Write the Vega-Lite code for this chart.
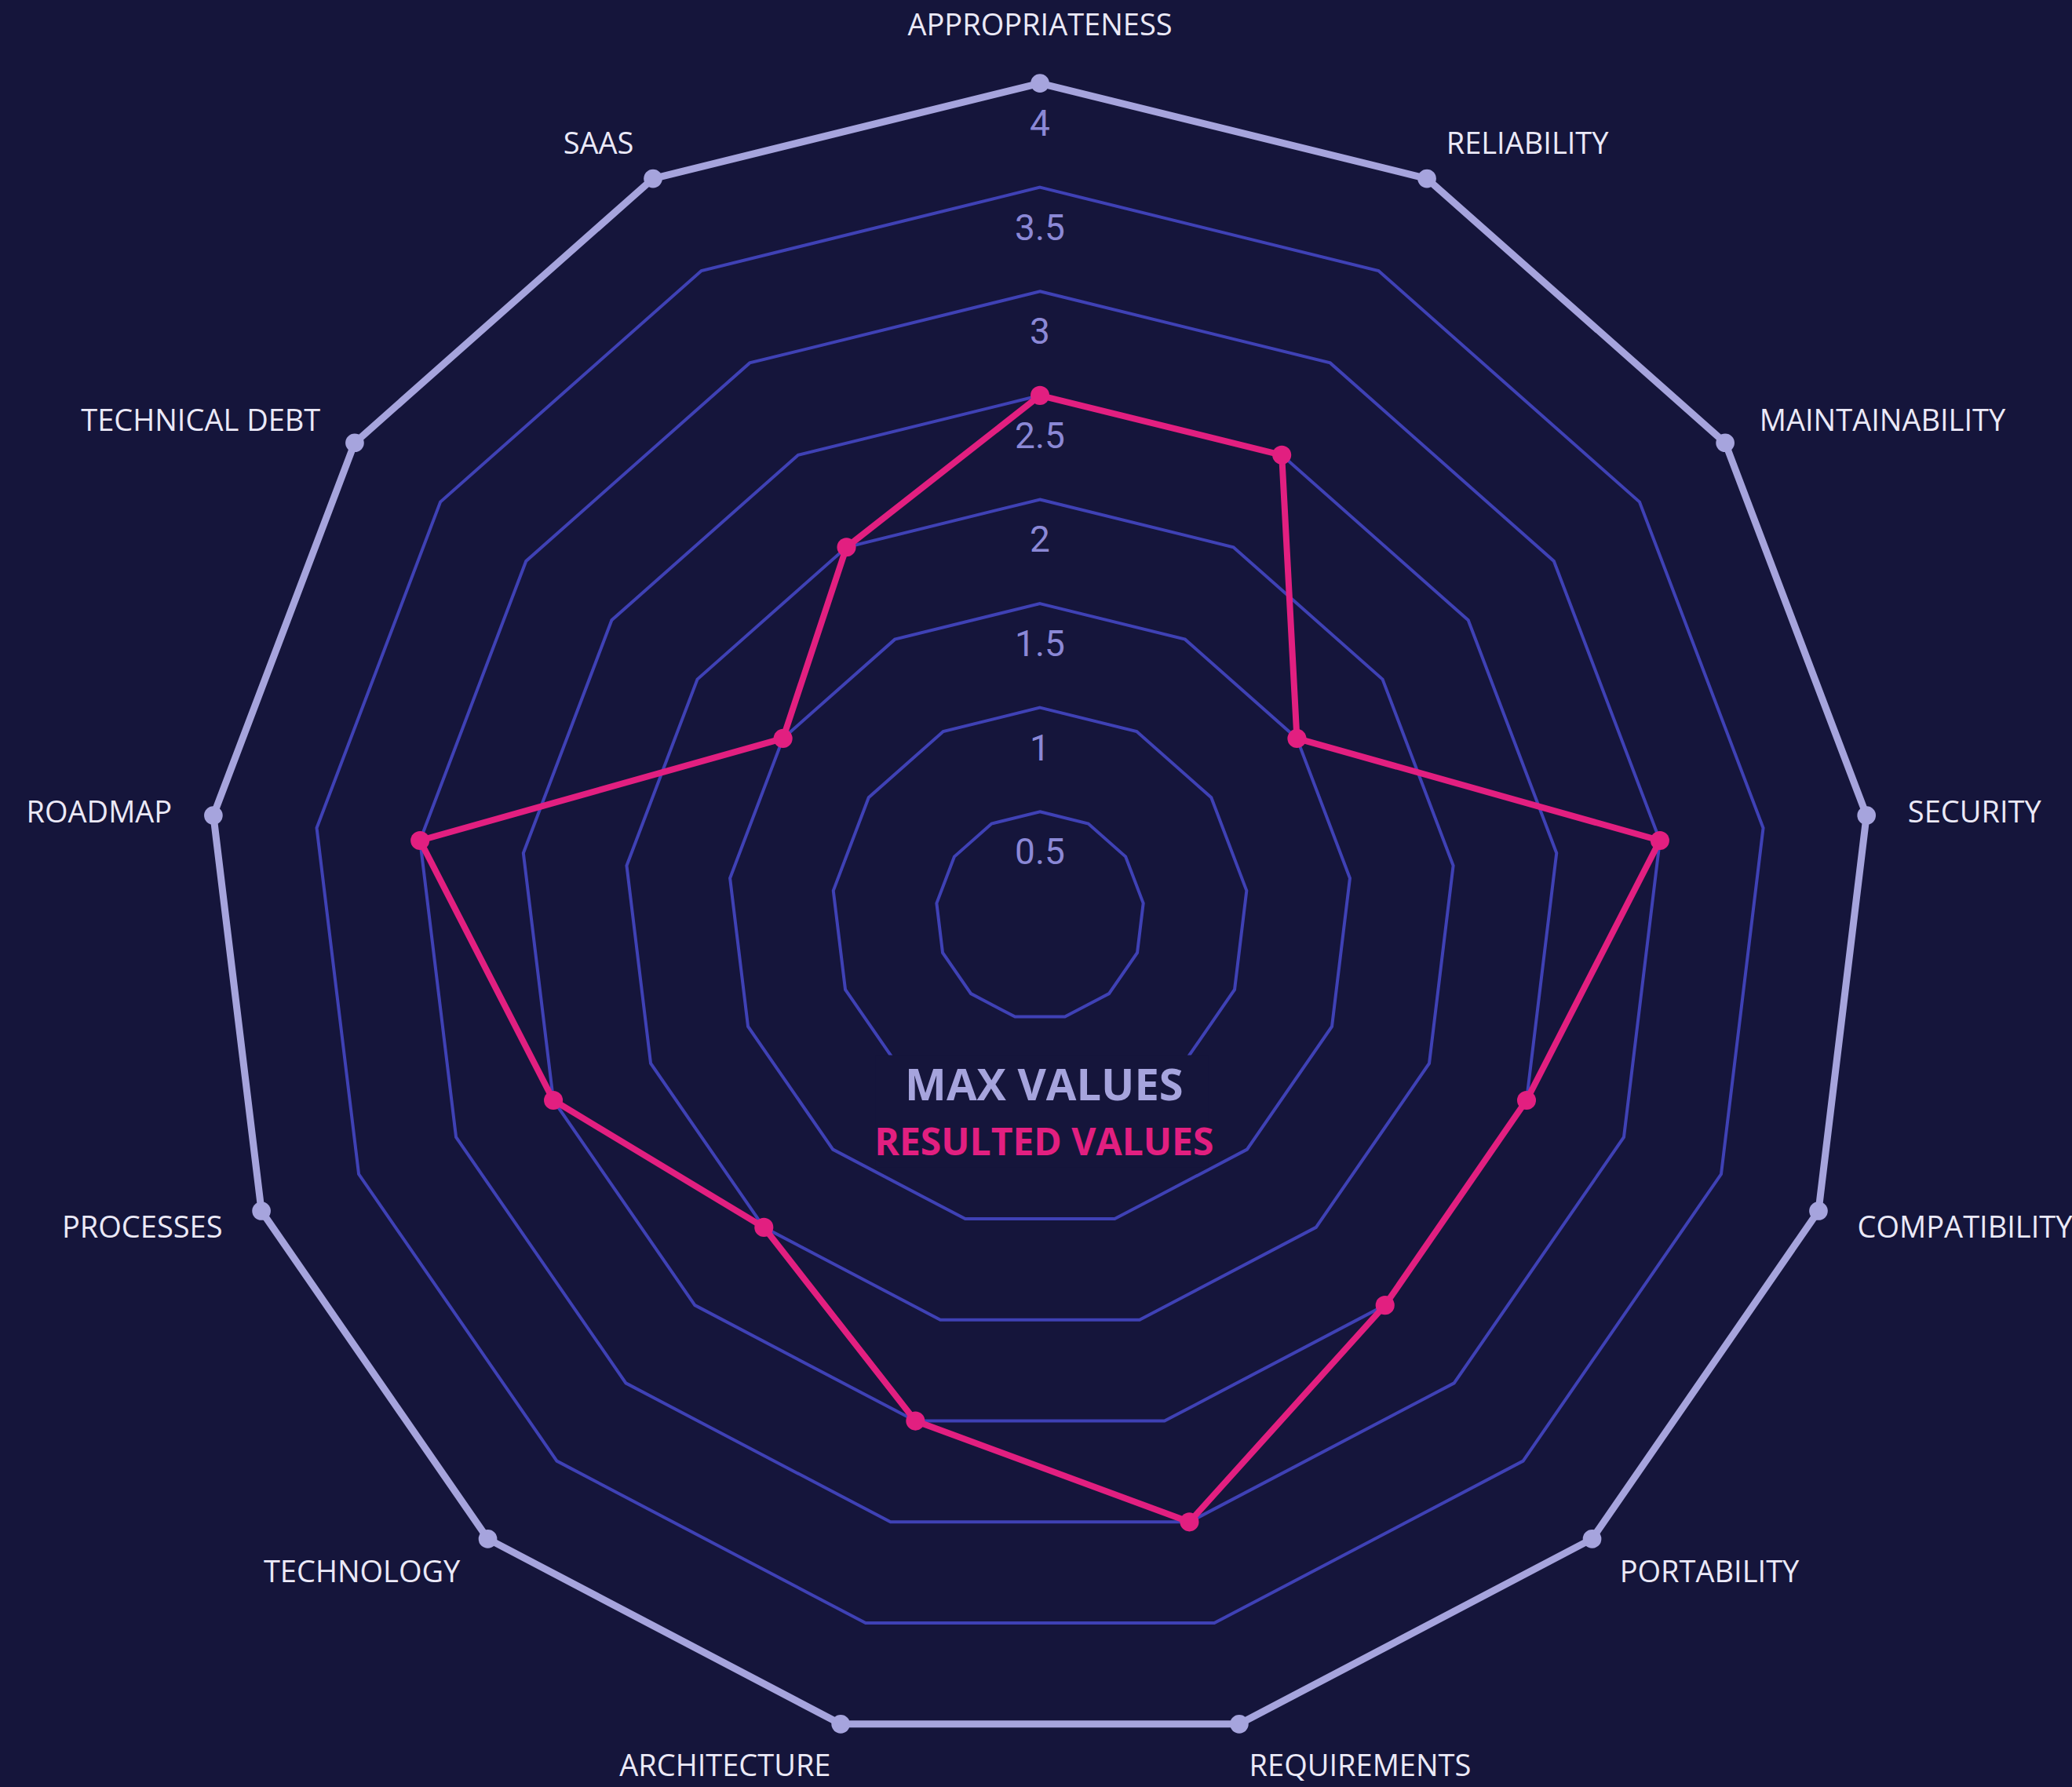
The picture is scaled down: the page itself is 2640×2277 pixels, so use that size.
{
  "$schema": "https://vega.github.io/schema/vega-lite/v6.json",
  "width": 2640,
  "height": 2277,
  "autosize": {"type": "none"},
  "padding": 0,
  "background": "#15153b",
  "config": {"view": {"stroke": null}},
  "datasets": {
    "axes": [
      {"axis": "APPROPRIATENESS", "i": 0, "value": 2.5, "max": 4},
      {"axis": "RELIABILITY", "i": 1, "value": 2.5, "max": 4},
      {"axis": "MAINTAINABILITY", "i": 2, "value": 1.5, "max": 4},
      {"axis": "SECURITY", "i": 3, "value": 3, "max": 4},
      {"axis": "COMPATIBILITY", "i": 4, "value": 2.5, "max": 4},
      {"axis": "PORTABILITY", "i": 5, "value": 2.5, "max": 4},
      {"axis": "REQUIREMENTS", "i": 6, "value": 3, "max": 4},
      {"axis": "ARCHITECTURE", "i": 7, "value": 2.5, "max": 4},
      {"axis": "TECHNOLOGY", "i": 8, "value": 2, "max": 4},
      {"axis": "PROCESSES", "i": 9, "value": 2.5, "max": 4},
      {"axis": "ROADMAP", "i": 10, "value": 3, "max": 4},
      {"axis": "TECHNICAL DEBT", "i": 11, "value": 1.5, "max": 4},
      {"axis": "SAAS", "i": 12, "value": 2, "max": 4}
    ],
    "levels": [
      {"level": 0.5, "label": "0.5"},
      {"level": 1, "label": "1"},
      {"level": 1.5, "label": "1.5"},
      {"level": 2, "label": "2"},
      {"level": 2.5, "label": "2.5"},
      {"level": 3, "label": "3"},
      {"level": 3.5, "label": "3.5"},
      {"level": 4, "label": "4"}
    ]
  },
  "layer": [
    {
      "data": {"name": "axes"},
      "transform": [
        {"calculate": "[0.5, 1, 1.5, 2, 2.5, 3, 3.5]", "as": "level"},
        {"flatten": ["level"]},
        {"calculate": "datum.level * sin(datum.i * 2 * PI / 13)", "as": "x"},
        {"calculate": "datum.level * cos(datum.i * 2 * PI / 13)", "as": "y"}
      ],
      "mark": {"type": "line", "interpolate": "linear-closed", "stroke": "#3f41b5", "strokeWidth": 4},
      "encoding": {
        "x": {"field": "x", "type": "quantitative", "scale": {"domain": [-4.996, 4.958], "nice": false, "zero": false}, "axis": null},
        "y": {"field": "y", "type": "quantitative", "scale": {"domain": [-4.186, 4.4], "nice": false, "zero": false}, "axis": null},
        "detail": {"field": "level", "type": "nominal"},
        "order": {"field": "i", "type": "quantitative"}
      }
    },
    {
      "data": {"values": [{}]},
      "mark": {"type": "rect", "fill": "#15153b"},
      "encoding": {
        "x": {"datum": -0.79, "type": "quantitative"},
        "x2": {"datum": 0.81},
        "y": {"datum": -0.67, "type": "quantitative"},
        "y2": {"datum": -1.21}
      }
    },
    {
      "data": {"name": "levels"},
      "mark": {"type": "text", "font": "Roboto", "fontSize": 46, "fontWeight": 400, "fill": "#8b88d6", "align": "center", "baseline": "middle", "dy": 53},
      "encoding": {
        "x": {"datum": 0, "type": "quantitative"},
        "y": {"field": "level", "type": "quantitative"},
        "text": {"field": "label"}
      }
    },
    {
      "data": {"name": "axes"},
      "transform": [
        {"calculate": "datum.max * sin(datum.i * 2 * PI / 13)", "as": "x"},
        {"calculate": "datum.max * cos(datum.i * 2 * PI / 13)", "as": "y"}
      ],
      "layer": [
        {
          "mark": {"type": "line", "interpolate": "linear-closed", "stroke": "#a6a4dd", "strokeWidth": 9},
          "encoding": {
            "x": {"field": "x", "type": "quantitative"},
            "y": {"field": "y", "type": "quantitative"},
            "order": {"field": "i", "type": "quantitative"}
          }
        },
        {
          "mark": {"type": "circle", "size": 560, "fill": "#a6a4dd", "opacity": 1},
          "encoding": {
            "x": {"field": "x", "type": "quantitative"},
            "y": {"field": "y", "type": "quantitative"}
          }
        }
      ]
    },
    {
      "data": {"name": "axes"},
      "transform": [
        {"calculate": "datum.value * sin(datum.i * 2 * PI / 13)", "as": "x"},
        {"calculate": "datum.value * cos(datum.i * 2 * PI / 13)", "as": "y"}
      ],
      "layer": [
        {
          "mark": {"type": "line", "interpolate": "linear-closed", "stroke": "#e21f80", "strokeWidth": 8},
          "encoding": {
            "x": {"field": "x", "type": "quantitative"},
            "y": {"field": "y", "type": "quantitative"},
            "order": {"field": "i", "type": "quantitative"}
          }
        },
        {
          "mark": {"type": "circle", "size": 580, "fill": "#e21f80", "opacity": 1},
          "encoding": {
            "x": {"field": "x", "type": "quantitative"},
            "y": {"field": "y", "type": "quantitative"}
          }
        }
      ]
    },
    {
      "data": {"name": "axes"},
      "transform": [
        {"calculate": "4.2 * sin(datum.i * 2 * PI / 13)", "as": "lx"},
        {"calculate": "4.2 * cos(datum.i * 2 * PI / 13)", "as": "ly"}
      ],
      "layer": [
        {
          "transform": [{"filter": "datum.i == 0"}],
          "mark": {"type": "text", "font": "Open Sans", "fontSize": 38, "fill": "#ebe9f7", "align": "center", "baseline": "bottom"},
          "encoding": {
            "x": {"field": "lx", "type": "quantitative"},
            "y": {"field": "ly", "type": "quantitative"},
            "text": {"field": "axis"}
          }
        },
        {
          "transform": [{"filter": "datum.i >= 1 && datum.i <= 6"}],
          "mark": {"type": "text", "font": "Open Sans", "fontSize": 38, "fill": "#ebe9f7", "align": "left", "baseline": "middle", "dy": 4},
          "encoding": {
            "x": {"field": "lx", "type": "quantitative"},
            "y": {"field": "ly", "type": "quantitative"},
            "text": {"field": "axis"}
          }
        },
        {
          "transform": [{"filter": "datum.i >= 7"}],
          "mark": {"type": "text", "font": "Open Sans", "fontSize": 38, "fill": "#ebe9f7", "align": "right", "baseline": "middle", "dy": 4},
          "encoding": {
            "x": {"field": "lx", "type": "quantitative"},
            "y": {"field": "ly", "type": "quantitative"},
            "text": {"field": "axis"}
          }
        }
      ]
    },
    {
      "data": {"values": [{"t": "MAX VALUES"}]},
      "mark": {"type": "text", "font": "Open Sans", "fontSize": 56, "fontWeight": "bold", "fill": "#a6a4dd", "align": "center", "baseline": "middle"},
      "encoding": {
        "x": {"datum": 0.02, "type": "quantitative"},
        "y": {"datum": -0.822, "type": "quantitative"},
        "text": {"field": "t"}
      }
    },
    {
      "data": {"values": [{"t": "RESULTED VALUES"}]},
      "mark": {"type": "text", "font": "Open Sans", "fontSize": 48, "fontWeight": "bold", "fill": "#e21f80", "align": "center", "baseline": "middle"},
      "encoding": {
        "x": {"datum": 0.02, "type": "quantitative"},
        "y": {"datum": -1.097, "type": "quantitative"},
        "text": {"field": "t"}
      }
    }
  ]
}
